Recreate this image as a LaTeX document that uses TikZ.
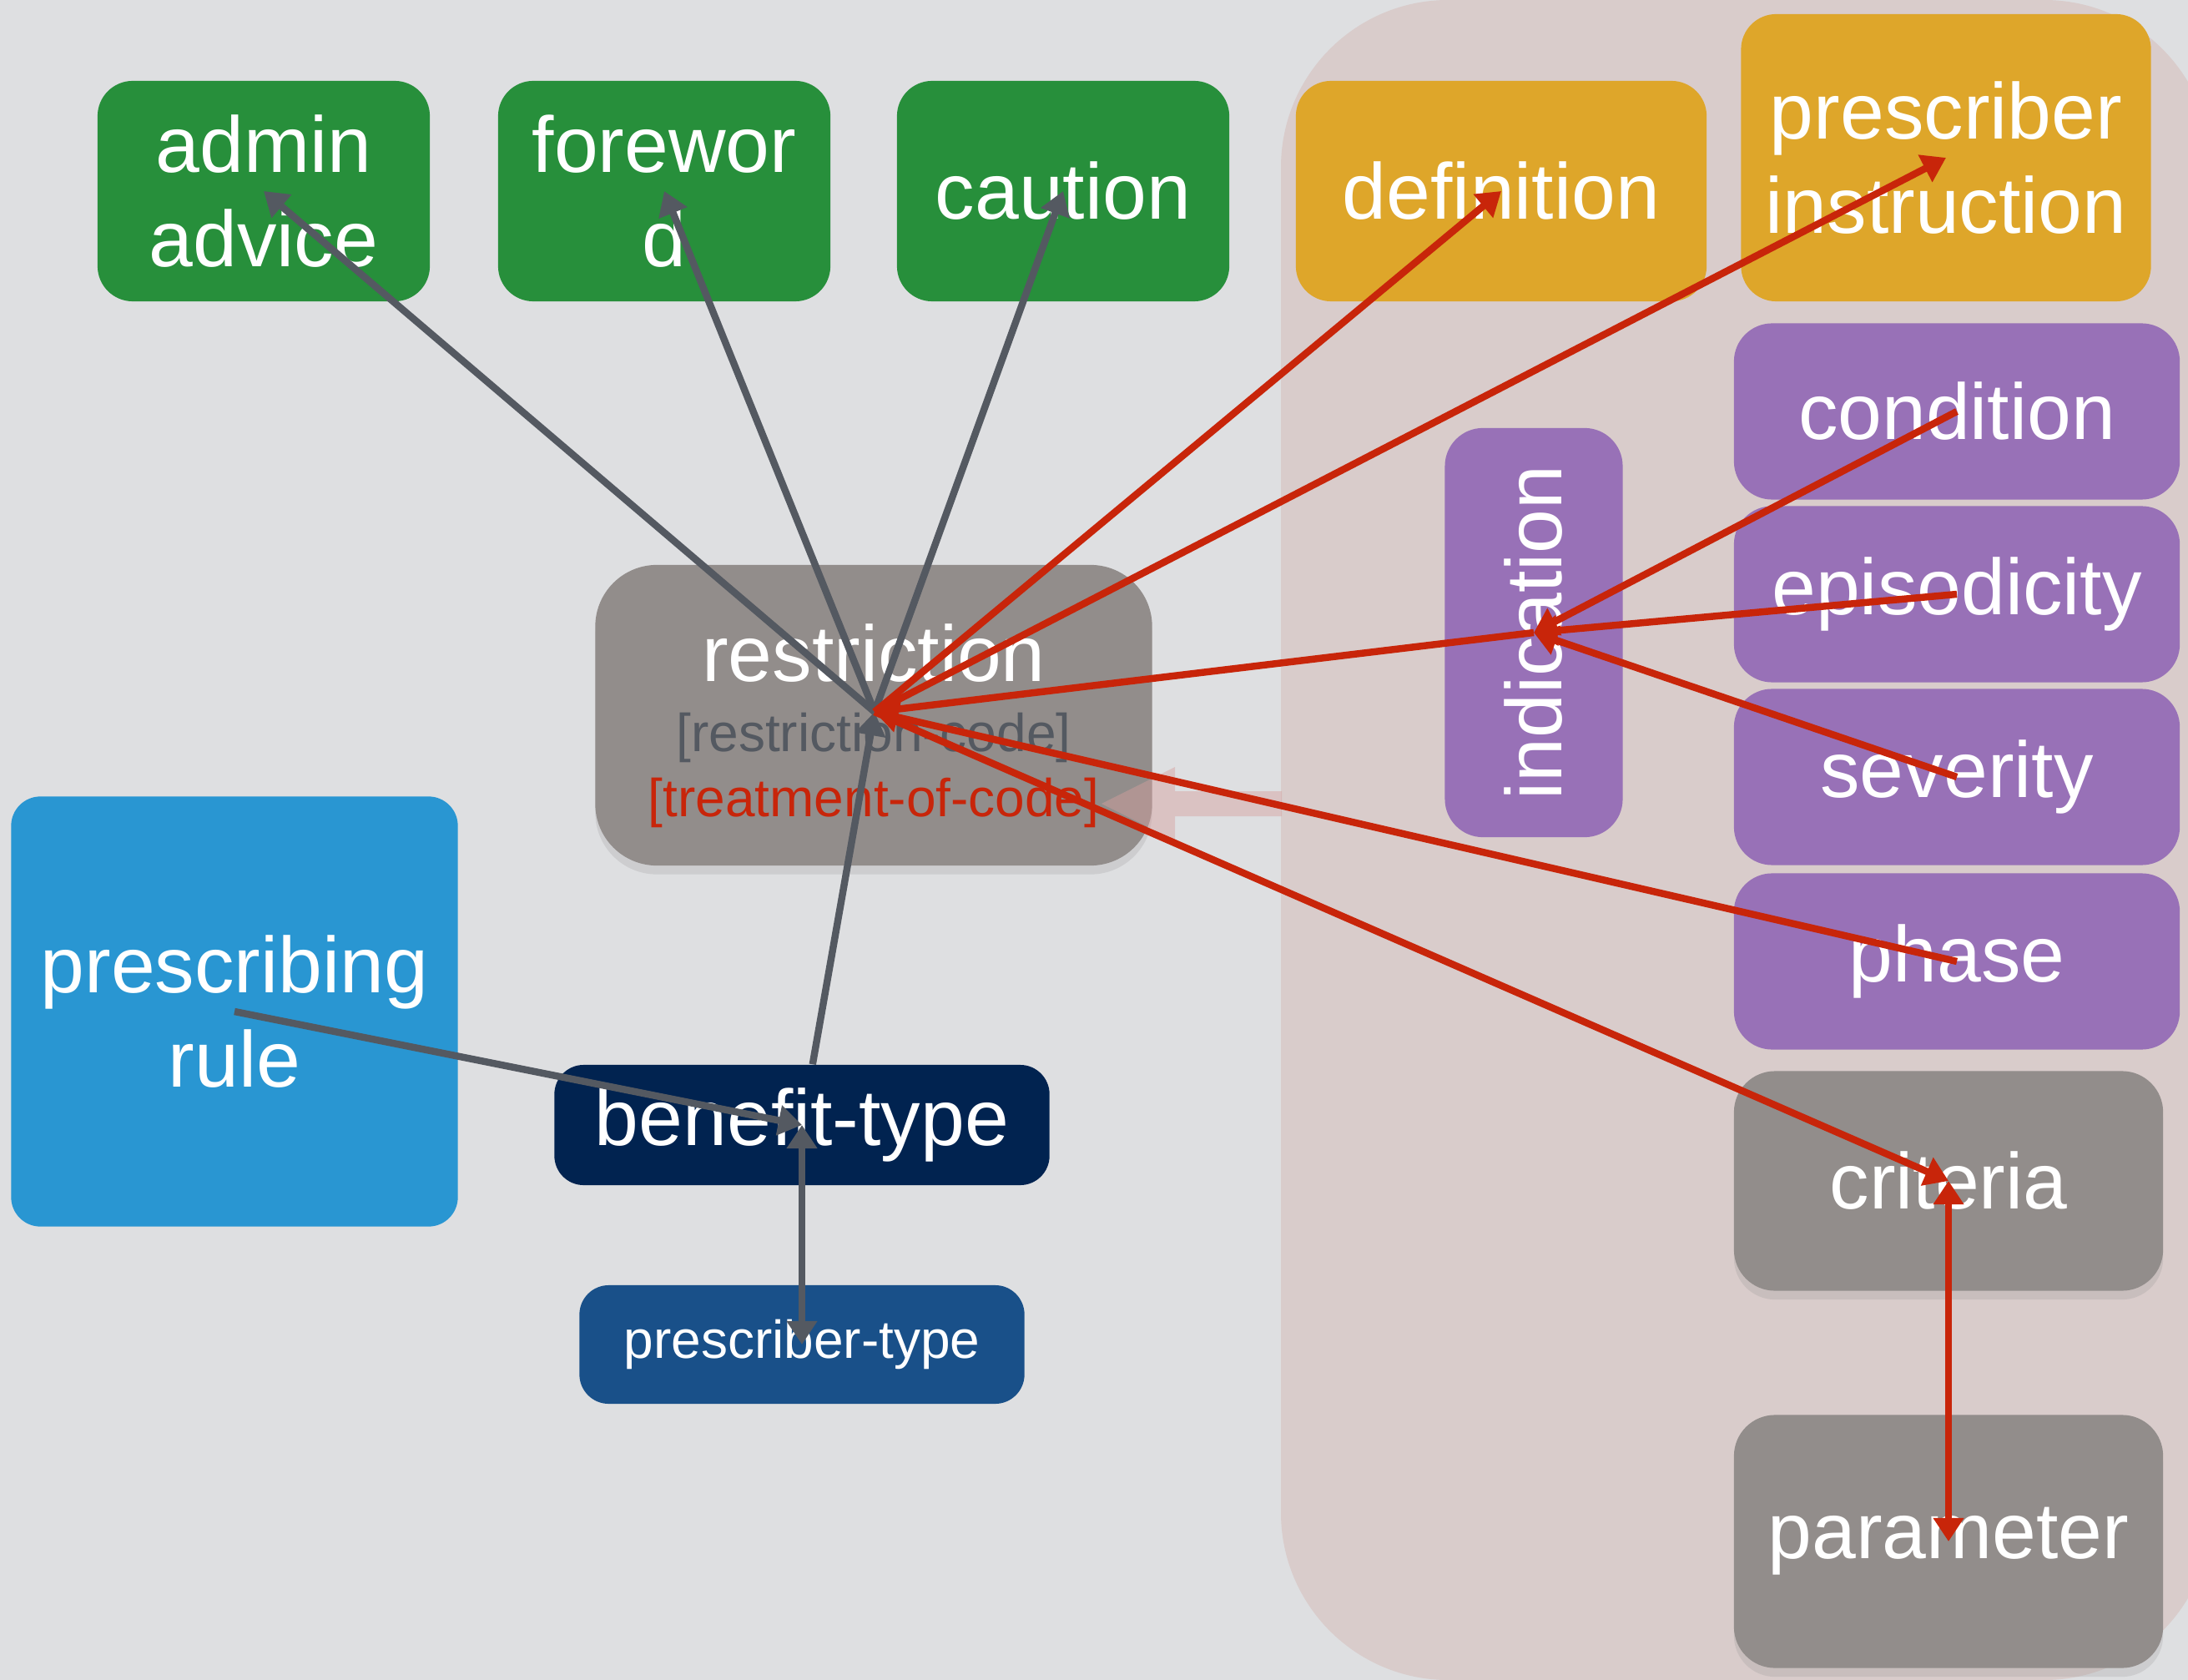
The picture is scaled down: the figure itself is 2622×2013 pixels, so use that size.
\documentclass[tikz,border=0pt]{standalone}
\usepackage{fontspec}
\setmainfont{Liberation Sans}
\usetikzlibrary{arrows.meta,shadows}

\definecolor{bgc}{RGB}{222,223,225}
\definecolor{panelc}{RGB}{217,204,203}
\definecolor{greenc}{RGB}{39,143,59}
\definecolor{goldc}{RGB}{222,166,42}
\definecolor{purplec}{RGB}{152,113,183}
\definecolor{grayboxc}{RGB}{146,141,139}
\definecolor{rulec}{RGB}{41,150,210}
\definecolor{navyc}{RGB}{1,35,80}
\definecolor{ptypec}{RGB}{25,80,137}
\definecolor{linegray}{RGB}{84,89,97}
\definecolor{linered}{RGB}{200,37,10}
\definecolor{blockpink}{RGB}{214,160,158}

\newcommand\bigfont{\fontsize{27}{32}\selectfont}
\newcommand\smallfont{\fontsize{18.2}{22}\selectfont}

\tikzset{
  box/.style={rounded corners=12pt,text=white,align=center,font=\bigfont,inner sep=0pt},
  greenbox/.style={box,fill=greenc,minimum width=3.98cm,minimum height=2.64cm},
  goldbox/.style={box,fill=goldc,minimum width=4.92cm,minimum height=2.64cm},
  purplebox/.style={box,fill=purplec,rounded corners=13pt,minimum width=5.34cm,minimum height=2.11cm},
  graybox/.style={box,fill=grayboxc,rounded corners=14pt,minimum width=5.14cm,
    drop shadow={shadow xshift=0pt,shadow yshift=-3pt,opacity=.18}},
  grayline/.style={draw=linegray,line width=2.4pt},
  redline/.style={draw=linered,line width=2.4pt},
}

\begin{document}
\begin{tikzpicture}[>={Triangle[width=10pt,length=8pt]},line join=bevel,x=0.01cm,y=-0.01cm]

 \useasboundingbox (0,0) rectangle (2622,2013);
 \fill [bgc] (0,0) rectangle (2622,2013);
 \begin{scope}
  \clip (0,0) rectangle (2622,2013);
  \fill [panelc,rounded corners=57pt] (1535,0) rectangle (2650,2013);
 \end{scope}

 \node (node_admin) at (316,229) [greenbox] {admin\\advice};
 \node (node_foreword) at (796,229) [greenbox] {forewor\\d};
 \node (node_caution) at (1274,229) [greenbox] {caution};

 \node (node_definition) at (1799,229) [goldbox] {definition};
 \node (node_instruction) at (2332,189) [goldbox,minimum width=4.91cm,minimum height=3.44cm] {prescriber\\instruction};

 \node (node_condition) at (2345,493) [purplebox] {condition};
 \node (node_episodicity) at (2345,712) [purplebox] {episodicity};
 \node (node_severity) at (2345,931) [purplebox] {severity};
 \node (node_phase) at (2345,1152) [purplebox] {phase};
 \node (node_indication) at (1838,758) [purplebox,rotate=90,minimum width=4.90cm,minimum height=2.13cm] {indication};

 \node (node_criteria) at (2335,1415) [graybox,minimum height=2.63cm] {criteria};
 \node (node_parameter) at (2335,1847) [graybox,minimum height=3.03cm] {parameter};

 \node (node_restriction) at (1047,857) [graybox,rounded corners=21pt,minimum width=6.67cm,minimum height=3.60cm] {};
 \node (node_restriction_name) at (1047,816) [anchor=base,text=white,font=\bigfont] {restriction};
 \node (node_restriction_code) at (1047,900) [anchor=base,text=linegray,font=\smallfont] {[restriction-code]};
 \node (node_restriction_treat) at (1047,978) [anchor=base,text=linered,font=\smallfont] {[treatment-of-code]};
 \coordinate (hub) at (1048,853);

 \node (node_rule) at (281,1212) [box,fill=rulec,rounded corners=10pt,minimum width=5.35cm,minimum height=5.15cm] {prescribing\\rule};
 \node (node_benefit) at (961,1348) [box,fill=navyc,rounded corners=10pt,minimum width=5.93cm,minimum height=1.44cm] {benefit-type};
 \node (node_prescriber) at (961,1611) [box,fill=ptypec,rounded corners=10pt,minimum width=5.33cm,minimum height=1.42cm,font=\smallfont] {prescriber-type};

 % faint block arrow from the panel
 \fill [blockpink,opacity=.45] (1320,963) -- (1408,919) -- (1408,948) -- (1536,948)
   -- (1536,978) -- (1408,978) -- (1408,1007) -- cycle;

 \draw [grayline,->] (node_benefit) -- (hub);
 \draw [grayline,->] (hub) -- (node_admin.center);
 \draw [grayline,->] (hub) -- (node_foreword.center);
 \draw [grayline,->] (hub) -- (node_caution.center);
 \draw [grayline,->] (node_rule.center) -- (node_benefit.center);
 \draw [grayline,<->] (node_prescriber.center) -- (node_benefit.center);

 \draw [redline,->] (hub) -- (node_definition.center);
 \draw [redline,->] (hub) -- (node_instruction.center);
 \draw [redline,->] (hub) -- (node_criteria.center);
 \draw [redline,->] (node_indication.center) -- (hub);
 \draw [redline,->] (node_phase.center) -- (hub);
 \draw [redline,->] (node_condition.center) -- (node_indication.center);
 \draw [redline,->] (node_episodicity.center) -- (node_indication.center);
 \draw [redline,->] (node_severity.center) -- (node_indication.center);
 \draw [redline,<->] (node_criteria.center) -- (node_parameter.center);

\end{tikzpicture}
\end{document}
